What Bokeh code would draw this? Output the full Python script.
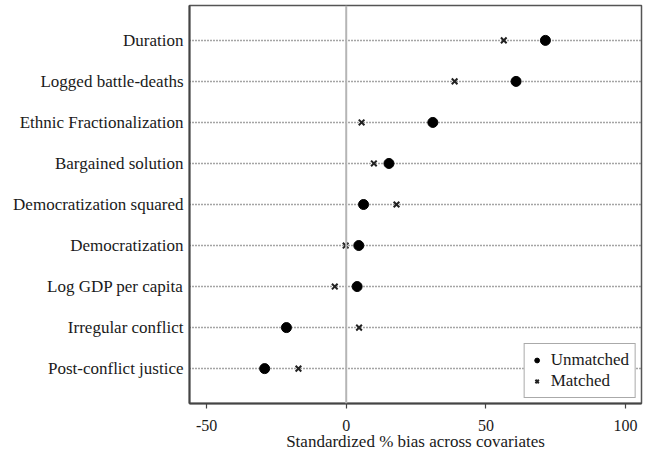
from bokeh.plotting import figure
from bokeh.models import FactorRange, Span, Legend, LegendItem, ColumnDataSource, FixedTicker
from bokeh.embed import file_html
from bokeh.resources import INLINE

covariates = ["Duration", "Logged battle-deaths", "Ethnic Fractionalization",
              "Bargained solution", "Democratization squared", "Democratization",
              "Log GDP per capita", "Irregular conflict", "Post-conflict justice"]
unmatched = [71.3, 60.8, 31.0, 15.3, 6.2, 4.5, 3.9, -21.4, -29.2]
matched = [56.4, 38.8, 5.5, 9.9, 18.0, -0.2, -4.1, 4.6, -17.1]
x_ticks = [-50, 0, 50, 100]

FONT = "Liberation Serif"
TXT = "#1a1a1a"

yr = FactorRange(factors=list(reversed(covariates)), range_padding=0.35,
                 range_padding_units="absolute")

p = figure(width=648, height=453, y_range=yr, x_range=(-56.1, 105.7),
           output_backend="svg", toolbar_location=None,
           min_border_left=189, min_border_right=7, min_border_top=5,
           min_border_bottom=49)

p.background_fill_color = "white"
p.border_fill_color = "white"
p.outline_line_color = "#555555"
p.outline_line_width = 1.5

p.xgrid.visible = False
p.ygrid.grid_line_color = "#4a4a4a"
p.ygrid.grid_line_dash = "1 2"
p.ygrid.grid_line_width = 1.4

p.add_layout(Span(location=0, dimension="height", line_color="#b5b5b5", line_width=2))

src = ColumnDataSource(dict(cov=covariates, u=unmatched, m=matched))
r_u = p.scatter("u", "cov", source=src, marker="circle", size=10,
                fill_color="black", line_color="black")
r_m = p.scatter("m", "cov", source=src, marker="x", size=8,
                line_color="#222222", line_width=2)

xax = p.xaxis[0]
yax = p.yaxis[0]

xax.ticker = FixedTicker(ticks=x_ticks)
xax.major_label_overrides = {t: str(t) for t in x_ticks}
xax.axis_label = "Standardized % bias across covariates"

for ax in (xax, yax):
    ax.axis_line_color = "#444444"
    ax.axis_line_width = 2
    ax.major_label_text_color = TXT
    ax.major_label_text_font = FONT
    ax.major_tick_in = 0
    ax.minor_tick_line_color = None
    ax.axis_label_text_color = TXT
    ax.axis_label_text_font = FONT
    ax.axis_label_text_font_style = "normal"

xax.major_label_text_font_size = "16px"
xax.axis_label_text_font_size = "17px"
xax.major_tick_out = 5
xax.major_tick_line_color = "#444444"
xax.major_tick_line_width = 1.2
xax.major_label_standoff = 11
xax.axis_label_standoff = -2

yax.major_label_text_font_size = "17px"
yax.major_tick_out = 0
yax.major_tick_line_color = None
yax.major_label_standoff = 6

legend = Legend(items=[LegendItem(label="Unmatched", renderers=[r_u]),
                       LegendItem(label="Matched", renderers=[r_m])],
                location="bottom_right",
                label_text_font=FONT, label_text_font_size="17px")
legend.margin = 5
legend.padding = 6
legend.spacing = 1
legend.glyph_width = 12
legend.glyph_height = 20
legend.label_height = 20
legend.label_standoff = 8
legend.label_text_color = TXT
legend.border_line_color = "#555555"
legend.border_line_width = 1.5
legend.background_fill_alpha = 1
p.add_layout(legend)

open("out.html", "w").write(file_html(p, INLINE))
